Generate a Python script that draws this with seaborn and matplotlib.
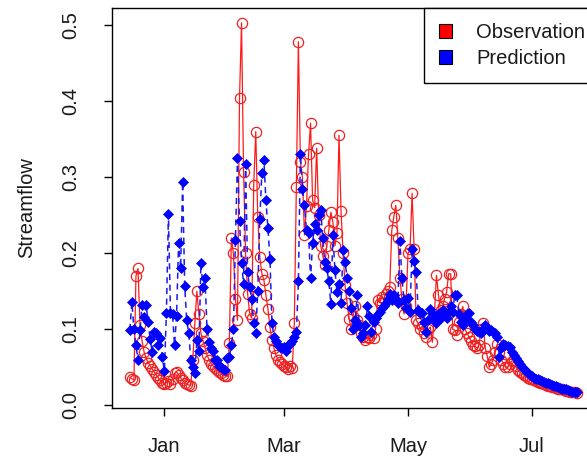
import numpy as np
import pandas as pd
import matplotlib
matplotlib.use("Agg")
import matplotlib.pyplot as plt
import matplotlib.dates as mdates
from matplotlib.patches import Patch
import seaborn as sns

# ---- data (daily streamflow) ----
start_date = "2013-12-15"
series_names = ["Observation", "Prediction"]
month_ticks = ["2014-01-01", "2014-03-01", "2014-05-01", "2014-07-01"]
y_ticks = [0.0, 0.1, 0.2, 0.3, 0.4, 0.5]

observation = [
    0.037, 0.035, 0.033, 0.170, 0.180, 0.105, 0.085, 0.070, 0.062, 0.056,
    0.052, 0.048, 0.044, 0.040, 0.036, 0.033, 0.030, 0.028, 0.030, 0.032,
    0.028, 0.035, 0.042, 0.044, 0.040, 0.036, 0.033, 0.030, 0.028, 0.027,
    0.026, 0.060, 0.108, 0.150, 0.120, 0.095, 0.085, 0.076, 0.066, 0.060,
    0.055, 0.052, 0.049, 0.046, 0.044, 0.042, 0.040, 0.039, 0.038, 0.082,
    0.220, 0.200, 0.140, 0.112, 0.404, 0.503, 0.307, 0.200, 0.147, 0.120,
    0.115, 0.290, 0.360, 0.248, 0.195, 0.173, 0.165, 0.145, 0.127, 0.103,
    0.086, 0.075, 0.066, 0.060, 0.057, 0.055, 0.052, 0.050, 0.048, 0.052,
    0.049, 0.108, 0.287, 0.478, 0.320, 0.300, 0.224, 0.262, 0.330, 0.371,
    0.270, 0.260, 0.338, 0.250, 0.210, 0.197, 0.184, 0.210, 0.230, 0.254,
    0.241, 0.210, 0.226, 0.355, 0.256, 0.200, 0.158, 0.134, 0.114, 0.100,
    0.118, 0.130, 0.112, 0.105, 0.095, 0.090, 0.086, 0.090, 0.088, 0.092,
    0.088, 0.100, 0.138, 0.135, 0.142, 0.140, 0.147, 0.150, 0.155, 0.230,
    0.248, 0.263, 0.220, 0.168, 0.140, 0.120, 0.130, 0.200, 0.205, 0.279,
    0.206, 0.112, 0.108, 0.100, 0.104, 0.095, 0.090, 0.100, 0.103, 0.083,
    0.120, 0.171, 0.145, 0.125, 0.130, 0.140, 0.149, 0.173, 0.173, 0.100,
    0.099, 0.092, 0.110, 0.120, 0.130, 0.100, 0.095, 0.090, 0.085, 0.080,
    0.078, 0.075, 0.080, 0.100, 0.108, 0.076, 0.065, 0.050, 0.055, 0.060,
    0.070, 0.081, 0.070, 0.060, 0.055, 0.050, 0.050, 0.055, 0.058, 0.059,
    0.052, 0.047, 0.044, 0.042, 0.040, 0.038, 0.036, 0.035, 0.034, 0.033,
    0.032, 0.031, 0.030, 0.029, 0.028, 0.027, 0.026, 0.025, 0.024, 0.024,
    0.023, 0.022, 0.021, 0.021, 0.020, 0.019, 0.019, 0.018, 0.017, 0.017,
    0.016,
]

prediction = [
    0.099, 0.136, 0.100, 0.079, 0.060, 0.099, 0.132, 0.116, 0.132, 0.110,
    0.087, 0.070, 0.096, 0.095, 0.080, 0.088, 0.063, 0.045, 0.122, 0.251,
    0.122, 0.120, 0.079, 0.118, 0.213, 0.180, 0.294, 0.157, 0.112, 0.095,
    0.060, 0.050, 0.043, 0.086, 0.072, 0.187, 0.155, 0.167, 0.101, 0.083,
    0.075, 0.071, 0.060, 0.059, 0.052, 0.050, 0.048, 0.046, 0.062, 0.064,
    0.080, 0.100, 0.218, 0.325, 0.242, 0.187, 0.160, 0.318, 0.175, 0.155,
    0.140, 0.108, 0.095, 0.150, 0.245, 0.305, 0.323, 0.270, 0.233, 0.193,
    0.108, 0.090, 0.085, 0.080, 0.077, 0.075, 0.077, 0.072, 0.080, 0.081,
    0.085, 0.090, 0.096, 0.163, 0.330, 0.285, 0.263, 0.230, 0.226, 0.167,
    0.213, 0.239, 0.230, 0.250, 0.257, 0.220, 0.188, 0.180, 0.163, 0.133,
    0.224, 0.178, 0.149, 0.160, 0.134, 0.204, 0.188, 0.168, 0.151, 0.128,
    0.100, 0.112, 0.145, 0.105, 0.090, 0.095, 0.105, 0.130, 0.118, 0.096,
    0.109, 0.115, 0.120, 0.123, 0.128, 0.131, 0.134, 0.140, 0.147, 0.138,
    0.145, 0.140, 0.135, 0.216, 0.168, 0.138, 0.128, 0.141, 0.123, 0.206,
    0.190, 0.175, 0.125, 0.121, 0.122, 0.109, 0.096, 0.112, 0.127, 0.121,
    0.114, 0.108, 0.120, 0.115, 0.125, 0.120, 0.115, 0.123, 0.130, 0.123,
    0.145, 0.145, 0.120, 0.110, 0.105, 0.115, 0.120, 0.121, 0.110, 0.105,
    0.101, 0.098, 0.096, 0.095, 0.100, 0.105, 0.102, 0.098, 0.099, 0.097,
    0.095, 0.090, 0.063, 0.075, 0.081, 0.080, 0.078, 0.077, 0.070, 0.066,
    0.062, 0.058, 0.055, 0.051, 0.048, 0.045, 0.042, 0.040, 0.038, 0.036,
    0.035, 0.034, 0.033, 0.032, 0.031, 0.030, 0.029, 0.028, 0.027, 0.026,
    0.025, 0.024, 0.023, 0.022, 0.022, 0.021, 0.020, 0.019, 0.018, 0.018,
    0.017,
]

dates = pd.date_range(start_date, periods=len(observation), freq="D")
df = pd.DataFrame({"date": dates, "Observation": observation, "Prediction": prediction})

sns.set_theme(style="white")
plt.rcParams["font.family"] = ["Liberation Sans", "DejaVu Sans"]
FS = 14.5

fig = plt.figure(figsize=(5.87, 4.57), dpi=100)
W, H = 587, 457
ax = fig.add_axes([112 / W, 1 - 408 / H, 482.4 / W, 400 / H])

sns.lineplot(data=df, x="date", y="Observation", ax=ax, color="#FF1A1A",
             lw=0.9, marker="o", markersize=7.4, markerfacecolor="none",
             markeredgecolor="#EE2222", markeredgewidth=0.9,
             estimator=None, sort=False)
sns.lineplot(data=df, x="date", y="Prediction", ax=ax, color="#1A1AF0",
             lw=1.1, linestyle=(0, (4, 3)), marker="D", markersize=5.2,
             markerfacecolor="#0000FF", markeredgecolor="#0000FF",
             markeredgewidth=0.5, estimator=None, sort=False)

# axis ranges (R style 4% extension)
x0 = mdates.date2num(dates[0])
x1 = mdates.date2num(dates[-1])
pad = 0.04 * (x1 - x0)
ax.set_xlim(x0 - pad, x1 + pad)
ax.set_ylim(-0.0035, 0.5225)

ax.set_xticks([mdates.date2num(pd.Timestamp(t)) for t in month_ticks])
ax.xaxis.set_major_formatter(mdates.DateFormatter("%b"))
ax.set_yticks(y_ticks)
ax.set_yticklabels([f"{v:.1f}" for v in y_ticks])

ax.tick_params(axis="both", which="major", length=6, width=1.0, color="black",
               labelsize=FS, labelcolor="#1A1A1A", direction="out",
               bottom=True, left=True)
ax.tick_params(axis="x", pad=15)
ax.tick_params(axis="y", pad=17, labelrotation=90)
for lab in ax.get_yticklabels():
    lab.set_va("center")

for s in ax.spines.values():
    s.set_color("black")
    s.set_linewidth(1.0)

ax.set_xlabel("")
ax.set_ylabel("Streamflow", fontsize=FS, color="#1A1A1A")
ax.yaxis.label.set_va("center")
ax.yaxis.set_label_coords((27 - 112) / 482.4, 0.5)

handles = [Patch(facecolor="#FF0000", edgecolor="black", linewidth=0.8, label=series_names[0]),
           Patch(facecolor="#0000FF", edgecolor="black", linewidth=0.8, label=series_names[1])]
leg = fig.legend(handles=handles, loc="upper left", bbox_to_anchor=(424 / W, 1 - 8 / H),
                 bbox_transform=fig.transFigure, fontsize=FS, frameon=True,
                 fancybox=False, edgecolor="black", framealpha=1,
                 borderaxespad=0, borderpad=0.75, handlelength=0.65,
                 handleheight=0.65, handletextpad=1.2, labelspacing=0.35)
leg.get_frame().set_linewidth(1.0)
for t in leg.get_texts():
    t.set_color("#1A1A1A")

fig.savefig("out.png", dpi=100)
